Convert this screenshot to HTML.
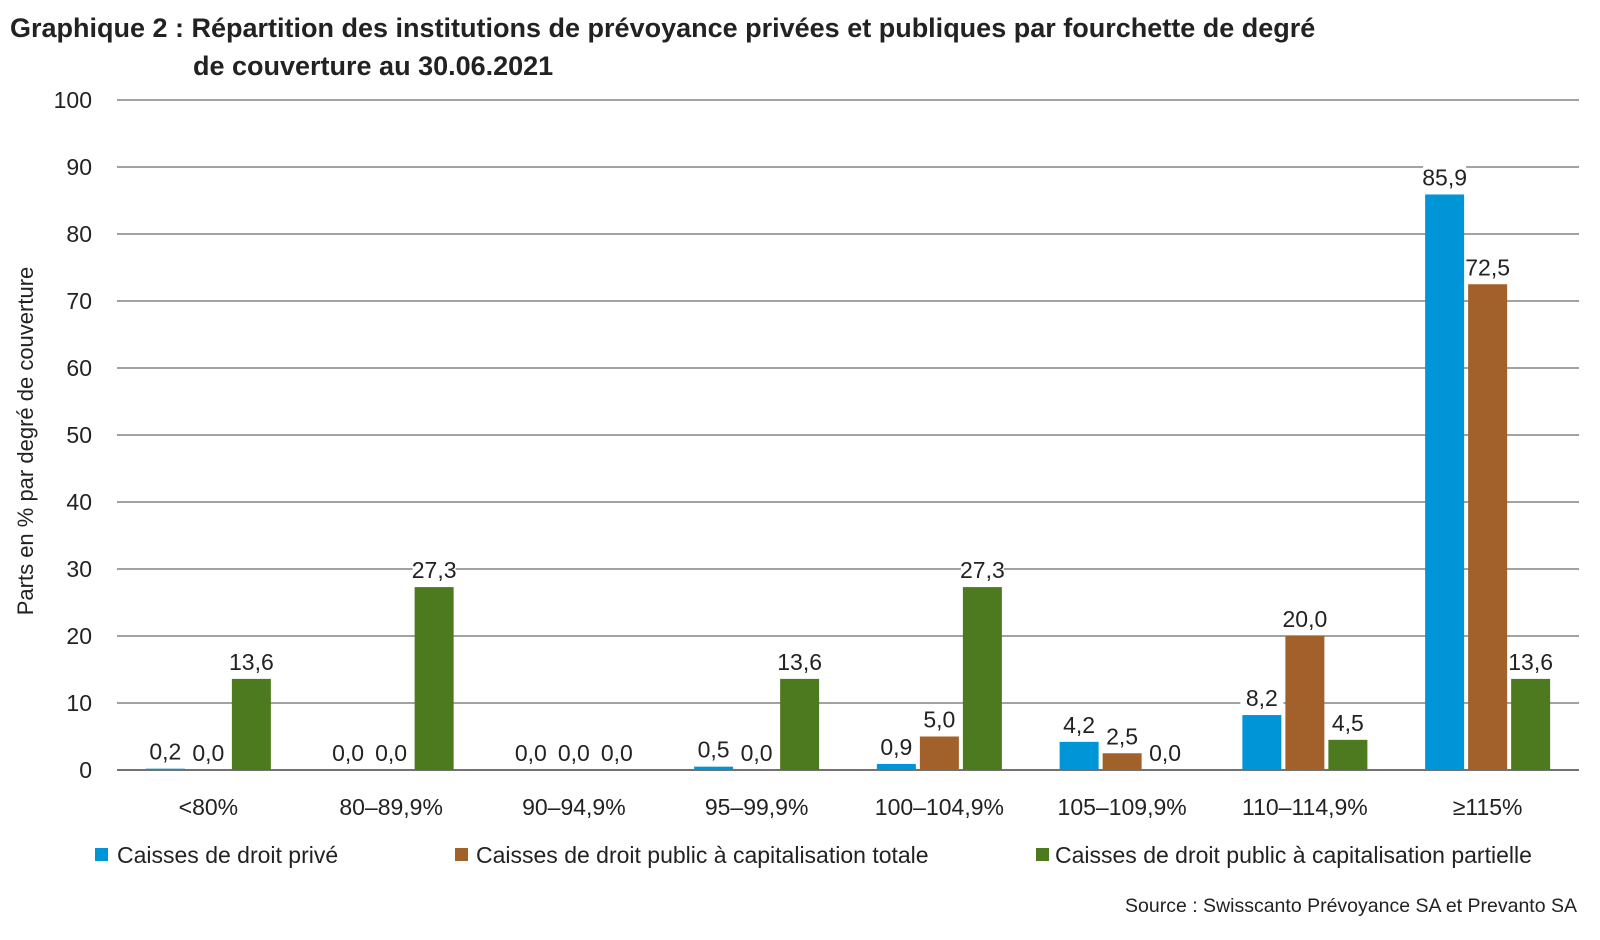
<!DOCTYPE html>
<html><head><meta charset="utf-8"><style>
body{margin:0;background:#fff;}
svg{display:block;font-family:"Liberation Sans",sans-serif;}
</style></head><body>
<svg id="chart" width="1600" height="940">
<text x="10" y="37" font-size="27" font-weight="bold" fill="#222">Graphique 2 : Répartition des institutions de prévoyance privées et publiques par fourchette de degré</text>
<text x="193" y="75" font-size="27" font-weight="bold" fill="#222">de couverture au 30.06.2021</text>
<text transform="translate(33,441) rotate(-90)" text-anchor="middle" font-size="22" fill="#222">Parts en % par degré de couverture</text>
<g id="grid"></g><g id="bars"></g><g id="labels"></g>
<g>
<rect x="95" y="848" width="13" height="13" fill="#0095d6"/>
<text x="117" y="863" font-size="23" fill="#222">Caisses de droit privé</text>
<rect x="455" y="848" width="13" height="13" fill="#a2602a"/>
<text x="476" y="863" font-size="23" fill="#222">Caisses de droit public à capitalisation totale</text>
<rect x="1036" y="848" width="13" height="13" fill="#4e7a1f"/>
<text x="1055" y="863" font-size="23" fill="#222">Caisses de droit public à capitalisation partielle</text>
</g>
<text x="1577" y="912" text-anchor="end" font-size="19.5" fill="#222">Source : Swisscanto Prévoyance SA et Prevanto SA</text>
</svg>
<script>
const categories=["<80%","80–89,9%","90–94,9%","95–99,9%","100–104,9%","105–109,9%","110–114,9%","≥115%"];
const prive=[0.2,0,0,0.5,0.9,4.2,8.2,85.9];
const totale=[0,0,0,0,5.0,2.5,20.0,72.5];
const partielle=[13.6,27.3,0,13.6,27.3,0,4.5,13.6];
const yTicks=[0,10,20,30,40,50,60,70,80,90,100];
const NS="http://www.w3.org/2000/svg";
const x0=117,x1=1579,y0=770,y1=100;
const y=v=>y0-(v/100)*(y0-y1);
const band=(x1-x0)/categories.length;
const cx=i=>x0+band*(i+0.5);
function mk(tag,attrs,parent){const e=document.createElementNS(NS,tag);for(const k in attrs)e.setAttribute(k,attrs[k]);document.getElementById(parent).appendChild(e);return e;}
yTicks.forEach(t=>{
 const l=mk("line",{x1:x0,x2:x1,y1:y(t),y2:y(t),stroke:"#444","stroke-width":t===0?1.5:1},"grid");
 
 
 const tx=mk("text",{x:92,y:y(t)+8,"text-anchor":"end","font-size":23,fill:"#222"},"grid");
 tx.textContent=t;
 
 
});
categories.forEach((c,i)=>{
 const tx=mk("text",{x:cx(i),y:815,"text-anchor":"middle","font-size":23,fill:"#222"},"grid");
 tx.textContent=c;
 
 
});
const series=[[prive,"#0095d6"],[totale,"#a2602a"],[partielle,"#4e7a1f"]];
const bw=39,step=43;
series.forEach(([vals,col],s)=>{
 vals.forEach((v,i)=>{
  const bx=cx(i)+(s-1)*step-bw/2;
  const r=mk("rect",{x:bx,y:y(v),width:bw,height:y0-y(v),fill:col},"bars");
  
  
  const str=v.toFixed(1).replace(".",",");
  const bg=mk("rect",{x:bx-2,y:y(v)-31,width:bw+4,height:25,fill:"#fff"},"labels");
  
  
  const t=mk("text",{x:bx+bw/2,y:y(v)-9,"text-anchor":"middle","font-size":23,fill:"#222"},"labels");
  t.textContent=str;
  
  
 });
});
</script>
</body></html>
